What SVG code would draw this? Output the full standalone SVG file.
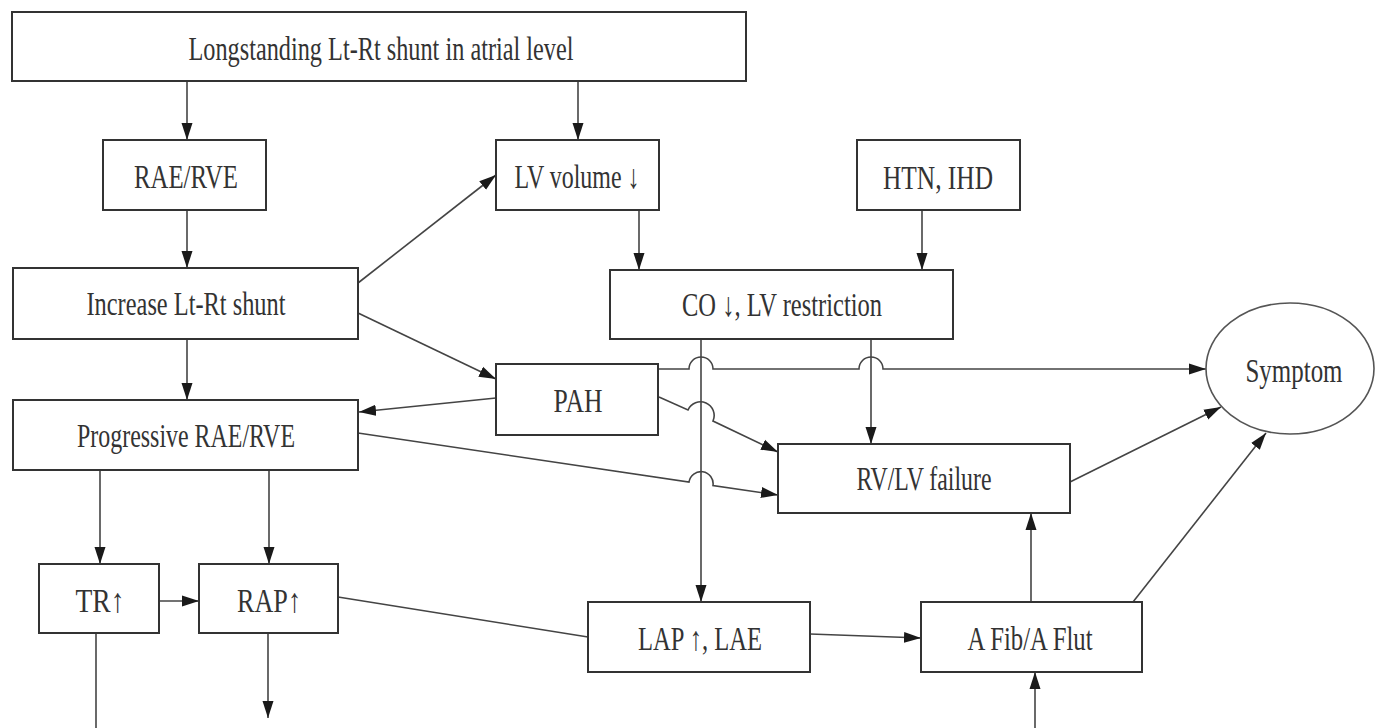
<svg xmlns="http://www.w3.org/2000/svg" width="1376" height="728" viewBox="0 0 1376 728">
<style>
.box{fill:#fff;stroke:#333;stroke-width:2}
.t{font-family:"Liberation Serif","Times New Roman",serif;font-size:34px;fill:#333;text-anchor:middle}
.c{fill:none;stroke:#444;stroke-width:1.6}
.a{marker-end:url(#ah)}
</style>
<defs>
<marker id="ah" markerUnits="userSpaceOnUse" markerWidth="18" markerHeight="12" refX="17" refY="6" orient="auto">
<path d="M0,0.5 L17,6 L0,11.5 Z" fill="#1a1a1a"/>
</marker>
</defs>
<rect width="1376" height="728" fill="#fff"/>
<g id="connectors">
<path class="c a" d="M187,81 V140"/>
<path class="c a" d="M578,81 V140"/>
<path class="c a" d="M187,210 V268"/>
<path class="c a" d="M358,283 L496,175"/>
<path class="c a" d="M358,313 L496,379"/>
<path class="c a" d="M187,339 V400"/>
<path class="c a" d="M639,210 V270"/>
<path class="c a" d="M922,210 V270"/>
<path class="c a" d="M496,398 L359,412"/>
<path class="c a" d="M658,369 H689 A12,12 0 0 1 713,369 H859 A12,12 0 0 1 883,369 H1206"/>
<path class="c a" d="M659,397 L688,410 A12,12 0 0 1 713,421 L778,452"/>
<path class="c a" d="M358,433 L689,482 A12,12 0 0 1 713,485.5 L778,495"/>
<path class="c a" d="M701,339 V602"/>
<path class="c a" d="M871,339 V444"/>
<path class="c a" d="M100,470 V564"/>
<path class="c a" d="M269,470 V564"/>
<path class="c a" d="M159,601 H199"/>
<path class="c" d="M338,597 L588,637"/>
<path class="c a" d="M810,634 L921,638"/>
<path class="c a" d="M1031,602 V513"/>
<path class="c a" d="M1133,602 L1266,433"/>
<path class="c a" d="M1070,482 L1221,407"/>
<path class="c" d="M96,633 V728"/>
<path class="c a" d="M268,633 V718"/>
<path class="c a" d="M1035,728 V672"/>
</g>
<g id="n-top"><rect class="box" x="12" y="12" width="734" height="69"/><text class="t" x="381" y="60" textLength="385" lengthAdjust="spacingAndGlyphs">Longstanding Lt-Rt shunt in atrial level</text></g>
<g id="n-rae"><rect class="box" x="103" y="140" width="163" height="70"/><text class="t" x="186" y="188" textLength="104" lengthAdjust="spacingAndGlyphs">RAE/RVE</text></g>
<g id="n-lvvol"><rect class="box" x="496" y="140" width="163" height="70"/><text class="t" x="577" y="188" textLength="125" lengthAdjust="spacingAndGlyphs">LV volume ↓</text></g>
<g id="n-htn"><rect class="box" x="857" y="140" width="163" height="70"/><text class="t" x="938" y="189" textLength="110" lengthAdjust="spacingAndGlyphs">HTN, IHD</text></g>
<g id="n-inc"><rect class="box" x="13" y="268" width="345" height="71"/><text class="t" x="186" y="315" textLength="199" lengthAdjust="spacingAndGlyphs">Increase Lt-Rt shunt</text></g>
<g id="n-co"><rect class="box" x="610" y="270" width="343" height="69"/><text class="t" x="782" y="316" textLength="200" lengthAdjust="spacingAndGlyphs">CO ↓, LV restriction</text></g>
<g id="n-pah"><rect class="box" x="496" y="364" width="162" height="71"/><text class="t" x="578" y="412" textLength="49" lengthAdjust="spacingAndGlyphs">PAH</text></g>
<g id="n-prog"><rect class="box" x="13" y="400" width="345" height="70"/><text class="t" x="186" y="447" textLength="218" lengthAdjust="spacingAndGlyphs">Progressive RAE/RVE</text></g>
<g id="n-symptom"><ellipse cx="1290" cy="368.5" rx="84" ry="65.5" fill="#fff" stroke="#555" stroke-width="1.6"/><text class="t" x="1294" y="382" textLength="97" lengthAdjust="spacingAndGlyphs">Symptom</text></g>
<g id="n-rvlv"><rect class="box" x="778" y="444" width="292" height="69"/><text class="t" x="924" y="490" textLength="135" lengthAdjust="spacingAndGlyphs">RV/LV failure</text></g>
<g id="n-tr"><rect class="box" x="39" y="564" width="120" height="69"/><text class="t" x="100" y="612" textLength="49" lengthAdjust="spacingAndGlyphs">TR↑</text></g>
<g id="n-rap"><rect class="box" x="199" y="564" width="139" height="69"/><text class="t" x="269" y="612" textLength="64" lengthAdjust="spacingAndGlyphs">RAP↑</text></g>
<g id="n-lap"><rect class="box" x="588" y="602" width="222" height="70"/><text class="t" x="700" y="650" textLength="124" lengthAdjust="spacingAndGlyphs">LAP ↑, LAE</text></g>
<g id="n-afib"><rect class="box" x="921" y="602" width="221" height="70"/><text class="t" x="1030" y="650" textLength="125" lengthAdjust="spacingAndGlyphs">A Fib/A Flut</text></g>
</svg>
